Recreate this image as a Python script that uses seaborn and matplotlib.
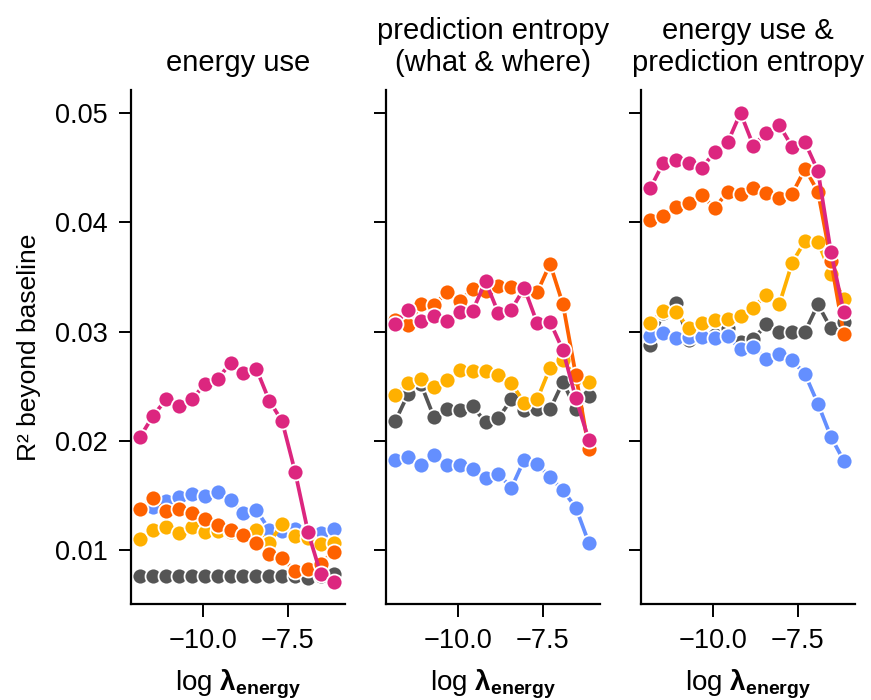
import numpy as np
import pandas as pd
import seaborn as sns
import matplotlib.pyplot as plt

# x grid (log lambda_energy)
log_lam = [-11.85, -11.47, -11.09, -10.71, -10.33, -9.95, -9.57, -9.19,
           -8.81, -8.43, -8.05, -7.67, -7.29, -6.91, -6.53, -6.15]

panels = ["energy use", "prediction entropy\n(what & where)",
          "energy use &\nprediction entropy"]
series = ["gray", "blue", "yellow", "orange", "magenta"]
colors = ["#555555", "#648FFF", "#FFB000", "#FE6100", "#DC267F"]

# panel 1: energy use
p1_gray = [0.0077, 0.0077, 0.0077, 0.0077, 0.0077, 0.0077, 0.0077, 0.0077,
           0.0077, 0.0077, 0.0077, 0.0077, 0.0077, 0.0075, 0.0077, 0.0078]
p1_blue = [0.0137, 0.0140, 0.0145, 0.0149, 0.0152, 0.0150, 0.0153, 0.0146,
           0.0134, 0.0137, 0.0119, 0.0118, 0.0120, 0.0118, 0.0116, 0.0120]
p1_yellow = [0.0110, 0.0119, 0.0121, 0.0116, 0.0121, 0.0117, 0.0118, 0.0117,
             0.0115, 0.0119, 0.0107, 0.0124, 0.0113, 0.0111, 0.0106, 0.0107]
p1_orange = [0.0138, 0.0148, 0.0136, 0.0138, 0.0134, 0.0129, 0.0123, 0.0119,
             0.0114, 0.0107, 0.0097, 0.0093, 0.0081, 0.0083, 0.0088, 0.0099]
p1_magenta = [0.0204, 0.0223, 0.0238, 0.0232, 0.0238, 0.0252, 0.0257, 0.0271,
              0.0262, 0.0266, 0.0237, 0.0218, 0.0172, 0.0117, 0.0078, 0.0071]

# panel 2: prediction entropy (what & where)
p2_gray = [0.0218, 0.0243, 0.0252, 0.0222, 0.0229, 0.0228, 0.0232, 0.0217,
           0.0221, 0.0238, 0.0228, 0.0229, 0.0229, 0.0254, 0.0229, 0.0241]
p2_blue = [0.0183, 0.0185, 0.0178, 0.0187, 0.0178, 0.0178, 0.0174, 0.0166,
           0.0170, 0.0157, 0.0183, 0.0179, 0.0167, 0.0155, 0.0139, 0.0107]
p2_yellow = [0.0242, 0.0253, 0.0257, 0.0249, 0.0256, 0.0265, 0.0264, 0.0264,
             0.0260, 0.0253, 0.0235, 0.0238, 0.0267, 0.0274, 0.0258, 0.0254]
p2_orange = [0.0311, 0.0306, 0.0325, 0.0324, 0.0336, 0.0328, 0.0339, 0.0337,
             0.0342, 0.0341, 0.0338, 0.0336, 0.0362, 0.0325, 0.0260, 0.0193]
p2_magenta = [0.0307, 0.0320, 0.0310, 0.0314, 0.0310, 0.0318, 0.0319, 0.0346,
              0.0317, 0.0320, 0.0340, 0.0308, 0.0309, 0.0283, 0.0239, 0.0201]

# panel 3: energy use & prediction entropy
p3_gray = [0.0288, 0.0317, 0.0326, 0.0292, 0.0294, 0.0297, 0.0303, 0.0291,
           0.0293, 0.0307, 0.0300, 0.0300, 0.0300, 0.0325, 0.0303, 0.0309]
p3_blue = [0.0296, 0.0299, 0.0294, 0.0295, 0.0295, 0.0294, 0.0296, 0.0284,
           0.0286, 0.0275, 0.0280, 0.0274, 0.0261, 0.0234, 0.0204, 0.0182]
p3_yellow = [0.0308, 0.0319, 0.0318, 0.0303, 0.0308, 0.0311, 0.0312, 0.0314,
             0.0322, 0.0334, 0.0325, 0.0363, 0.0383, 0.0382, 0.0353, 0.0330]
p3_orange = [0.0402, 0.0406, 0.0414, 0.0418, 0.0425, 0.0413, 0.0428, 0.0426,
             0.0431, 0.0427, 0.0422, 0.0426, 0.0449, 0.0428, 0.0365, 0.0298]
p3_magenta = [0.0431, 0.0454, 0.0457, 0.0454, 0.0450, 0.0464, 0.0473, 0.0500,
              0.0470, 0.0482, 0.0489, 0.0469, 0.0473, 0.0447, 0.0373, 0.0318]

values = {
    panels[0]: [p1_gray, p1_blue, p1_yellow, p1_orange, p1_magenta],
    panels[1]: [p2_gray, p2_blue, p2_yellow, p2_orange, p2_magenta],
    panels[2]: [p3_gray, p3_blue, p3_yellow, p3_orange, p3_magenta],
}

rows = []
for p in panels:
    for s, ys in zip(series, values[p]):
        for x, y in zip(log_lam, ys):
            rows.append({"panel": p, "series": s, "x": x, "y": y})
df = pd.DataFrame(rows)

sns.set_style("ticks")
plt.rcParams["font.family"] = ["Liberation Sans", "DejaVu Sans"]
plt.rcParams["mathtext.fontset"] = "custom"
plt.rcParams["mathtext.rm"] = "Liberation Sans"
plt.rcParams["mathtext.bf"] = "Liberation Sans:bold"
for k in ["text.color", "axes.labelcolor", "xtick.color", "ytick.color",
          "axes.edgecolor"]:
    plt.rcParams[k] = "black"

fig = plt.figure(figsize=(8.71, 7.0), dpi=100)
lefts = [131, 386, 641]
axes = []
for i, p in enumerate(panels):
    ax = fig.add_axes([lefts[i] / 871, 96 / 700, 214 / 871, 514 / 700],
                      sharey=axes[0] if axes else None)
    axes.append(ax)
    sns.lineplot(data=df[df.panel == p], x="x", y="y", hue="series",
                 hue_order=series, palette=colors, marker="o", markersize=11.5,
                 markeredgecolor="white", markeredgewidth=1.3, linewidth=2.7,
                 legend=False, ax=ax)
    ax.set_title(p, fontsize=21, pad=14, linespacing=1.15)
    ax.set_xlim(-12.12, -5.82)
    ax.set_xticks([-10.0, -7.5])
    ax.set_xticklabels(["\u221210.0", "\u22127.5"])
    ax.set_xlabel(r"log $\mathbf{\lambda_{energy}}$", fontsize=20, labelpad=10)
    ax.tick_params(labelsize=19.5, length=9, width=1.4, pad=8)
    for sp in ax.spines.values():
        sp.set_linewidth(1.6)
    sns.despine(ax=ax)
    if i == 0:
        ax.set_ylabel("R\u00b2 beyond baseline", fontsize=19, labelpad=10)
    else:
        ax.set_ylabel("")
        ax.tick_params(labelleft=False)

axes[0].set_ylim(0.0051, 0.0521)
axes[0].set_yticks([0.01, 0.02, 0.03, 0.04, 0.05])
axes[0].set_yticklabels(["0.01", "0.02", "0.03", "0.04", "0.05"])

fig.savefig("out.png", dpi=100)
